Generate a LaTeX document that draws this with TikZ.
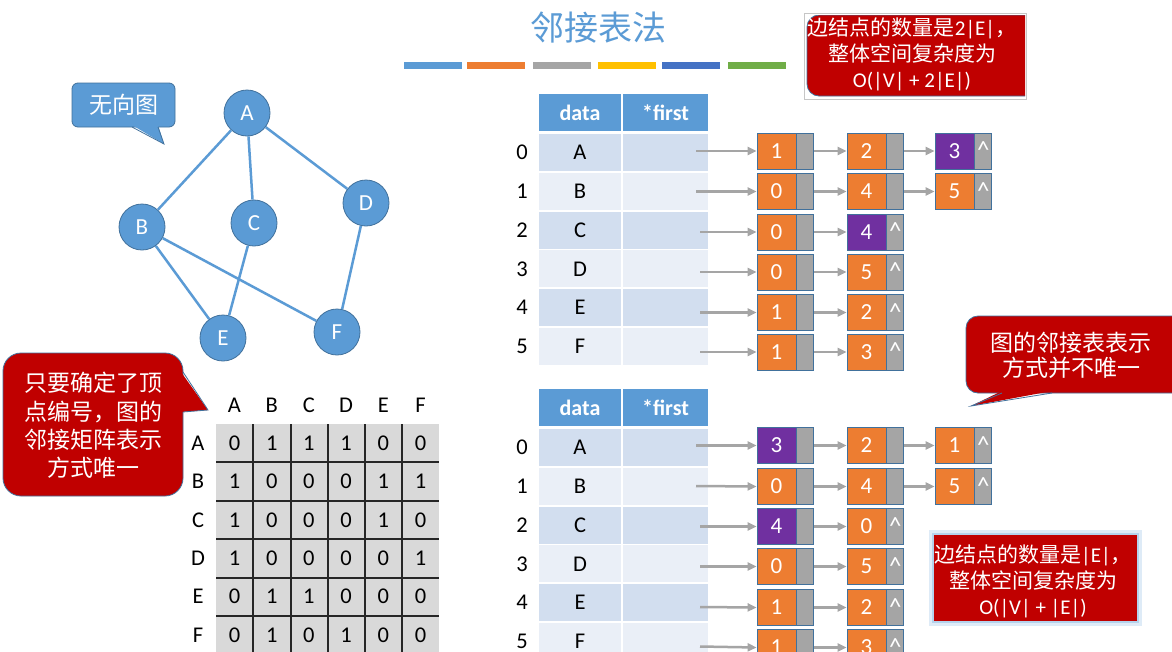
\documentclass[tikz,border=0pt]{standalone}
\usepackage{fontspec}
\setmainfont{Carlito}
\newfontfamily\cjk{Noto Sans CJK SC}
\usetikzlibrary{arrows.meta}
\definecolor{cblue}{HTML}{5B9BD5}
\definecolor{cdark}{HTML}{41719C}
\definecolor{corange}{HTML}{ED7D31}
\definecolor{cgray}{HTML}{A5A5A5}
\definecolor{cyellow}{HTML}{FFC000}
\definecolor{cbluetwo}{HTML}{4472C4}
\definecolor{cgreen}{HTML}{70AD47}
\definecolor{cpurple}{HTML}{7030A0}
\definecolor{cred}{HTML}{C00000}
\definecolor{rowa}{HTML}{D2DEEF}
\definecolor{rowb}{HTML}{EAEFF7}
\definecolor{mgray}{HTML}{D9D9D9}
\definecolor{mline}{HTML}{262626}
\newcommand\mylnode[6]{%
  \node[#5] (#1d) at (#2,#3) {#4};
  \node[pcell, anchor=west] (#1p) at (#1d.east) {#6};
}
\newcommand\mycaret{\raisebox{1pt}{\textasciicircum}}
\begin{document}
\begin{tikzpicture}[x=1pt,y=-1pt,
  gnode/.style={circle, fill=cblue, draw=cdark, line width=0.8pt, minimum size=46pt, inner sep=0pt, text=white, font=\fontsize{23}{23}\selectfont},
  gedge/.style={cblue, line width=2.5pt},
  hcell/.style={fill=cblue, text=white, font=\bfseries\fontsize{22}{22}\selectfont, minimum height=37pt, inner sep=0pt},
  tcell/.style={text=black, font=\fontsize{22.5}{22.5}\selectfont, minimum height=37pt, inner sep=0pt},
  idx/.style={text=black, font=\fontsize{22.5}{22.5}\selectfont, inner sep=0pt},
  dcell/.style={draw=cdark, line width=0.8pt, fill=corange, minimum width=39pt, minimum height=36pt, inner sep=0pt, text=white, font=\fontsize{23}{23}\selectfont},
  pdcell/.style={dcell, fill=cpurple},
  pcell/.style={draw=cdark, line width=0.8pt, fill=cgray, minimum width=17pt, minimum height=36pt, inner sep=0pt, text=white, font=\fontsize{25}{25}\selectfont, anchor=west},
  arr/.style={cgray, line width=2.5pt, -{Triangle[length=9pt,width=8pt]}},
  mtxt/.style={text=black, font=\fontsize{22.5}{22.5}\selectfont, inner sep=0pt},
  calltxt/.style={text=white, align=center, inner sep=0pt},
  calloutline/.style={draw=cdark, line width=0.8pt}
]
\clip (0,0) rectangle (1172,651);
\fill[white] (0,0) rectangle (1172,651);

% title and bars
\node[font=\cjk\fontsize{34}{34}\selectfont, text=cblue] (title) at (598,28) {邻接表法};
\foreach \x/\c in {404/cblue,467/corange,533/cgray,598/cyellow,662/cbluetwo,728/cgreen}
  \fill[\c] (\x,62) rectangle ({\x+58},69);

% top-right callout
\draw[gray!45, fill=white] (804,13) rectangle (1026,99);
\begin{scope}
  \clip (806,15) rectangle (1025,97);
  \draw[fill=cred, calloutline, rounded corners=12] (807,15) rectangle (1060,96);
\end{scope}
\node[calltxt, font=\cjk\fontsize{21}{26}\selectfont] (tc) at (912,54.5)
  {边结点的数量是{\fontspec{Carlito}2|E|}，\\整体空间复杂度为\\{\fontspec{Carlito}O(|V| + 2|E|)}};

% undirected graph label callout
\draw[fill=cblue, calloutline, rounded corners=6] (72,83) rectangle (175,127);
\fill[cblue] (132,125) -- (164,144) -- (158,125) -- cycle;
\draw[calloutline] (132,127) -- (164,144) -- (158,127);
\node[calltxt, font=\cjk\fontsize{23}{23}\selectfont] (wxt) at (123.5,105) {无向图};

% graph
\node[gnode] (A) at (247,113) {A};
\node[gnode] (B) at (142,227) {B};
\node[gnode] (C) at (254,223) {C};
\node[gnode] (D) at (366,203) {D};
\node[gnode] (E) at (223,338) {E};
\node[gnode] (F) at (337,332) {F};
\draw[gedge] (A) -- (B);
\draw[gedge] (A) -- (C);
\draw[gedge] (A) -- (D);
\draw[gedge] (B) -- (E);
\draw[gedge] (B) -- (F);
\draw[gedge] (C) -- (E);
\draw[gedge] (D) -- (F);

% left red callout
\draw[fill=cred, calloutline, rounded corners=18] (3,353) rectangle (183,496);
\fill[cred] (181,372) -- (208,410) -- (181,412) -- cycle;
\draw[calloutline] (183,372) -- (208,410) -- (183,412);
\node[calltxt, font=\cjk\fontsize{23}{28.3}\selectfont] (lc) at (93,425.5)
  {只要确定了顶\\点编号，图的\\邻接矩阵表示\\方式唯一};

% adjacency matrix
\fill[mgray] (216,424) rectangle (439,660);
\foreach \x in {253,291,328,365,402} \draw[mline, line width=1.5pt] (\x,424) -- (\x,660);
\foreach \y in {462,501,539,578,616} \draw[mline, line width=1.5pt] (216,\y) -- (439,\y);
\foreach \l [count=\c from 0] in {A,B,C,D,E,F} {
  \node[mtxt] (ch\c) at ({234.5+37.2*\c},405) {\l};
  \node[mtxt] (rh\c) at (198,{443+38.4*\c}) {\l};
}
\foreach \row [count=\r from 0] in {{0,1,1,1,0,0},{1,0,0,0,1,1},{1,0,0,0,1,0},{1,0,0,0,0,1},{0,1,1,0,0,0},{0,1,0,1,0,0}} {
  \foreach \v [count=\c from 0] in \row {
    \node[mtxt] (m\r\c) at ({234.5+37.2*\c},{443+38.4*\r}) {\v};
  }
}

% vertex tables
\foreach \oy/\p in {0/t,295/u} {
  \node[hcell, minimum width=82pt] (\p h1) at (580,{112.5+\oy}) {data};
  \node[hcell, minimum width=85.5pt] (\p h2) at (665.5,{112.5+\oy}) {*first};
  \foreach \i/\l/\cc in {0/A/rowa,1/B/rowb,2/C/rowa,3/D/rowb,4/E/rowa,5/F/rowb} {
    \node[tcell, fill=\cc, minimum width=82pt] (\p a\i) at (580,{152.5+38.8*\i+\oy}) {\l};
    \node[tcell, fill=\cc, minimum width=85.5pt] (\p b\i) at (665.5,{152.5+38.8*\i+\oy}) {};
    \node[idx] (\p i\i) at (522,{152.5+38.8*\i+\oy}) {\i};
  }
}

% top adjacency lists
\mylnode{ta0}{776.5}{151}{1}{dcell}{}
\mylnode{tb0}{866.5}{151}{2}{dcell}{}
\mylnode{tc0}{954.5}{151}{3}{pdcell}{\mycaret}
\mylnode{ta1}{776.5}{191.5}{0}{dcell}{}
\mylnode{tb1}{866.5}{191.5}{4}{dcell}{}
\mylnode{tc1}{954.5}{191.5}{5}{dcell}{\mycaret}
\mylnode{ta2}{776.5}{232}{0}{dcell}{}
\mylnode{tb2}{866.5}{232}{4}{pdcell}{\mycaret}
\mylnode{ta3}{776.5}{272}{0}{dcell}{}
\mylnode{tb3}{866.5}{272}{5}{dcell}{\mycaret}
\mylnode{ta4}{776.5}{312.5}{1}{dcell}{}
\mylnode{tb4}{866.5}{312.5}{2}{dcell}{\mycaret}
\mylnode{ta5}{776.5}{352}{1}{dcell}{}
\mylnode{tb5}{866.5}{352}{3}{dcell}{\mycaret}

% bottom adjacency lists
\mylnode{ua0}{776.5}{445.5}{3}{pdcell}{}
\mylnode{ub0}{866.5}{445.5}{2}{dcell}{}
\mylnode{uc0}{954.5}{445.5}{1}{dcell}{\mycaret}
\mylnode{ua1}{776.5}{486.5}{0}{dcell}{}
\mylnode{ub1}{866.5}{486.5}{4}{dcell}{}
\mylnode{uc1}{954.5}{486.5}{5}{dcell}{\mycaret}
\mylnode{ua2}{776.5}{526.5}{4}{pdcell}{}
\mylnode{ub2}{866.5}{526.5}{0}{dcell}{\mycaret}
\mylnode{ua3}{776.5}{566.5}{0}{dcell}{}
\mylnode{ub3}{866.5}{566.5}{5}{dcell}{\mycaret}
\mylnode{ua4}{776.5}{607.5}{1}{dcell}{}
\mylnode{ub4}{866.5}{607.5}{2}{dcell}{\mycaret}
\mylnode{ua5}{776.5}{647.5}{1}{dcell}{}
\mylnode{ub5}{866.5}{647.5}{3}{dcell}{\mycaret}

% arrow start points
\foreach \p/\oy in {t/0,u/294.5} {
  \coordinate (\p s0) at (696,{151+\oy});
  \coordinate (\p s1) at (696,{191.5+\oy});
  \coordinate (\p s2) at (700,{232+\oy});
  \coordinate (\p s3) at (700,{272+\oy});
  \coordinate (\p s4) at (700,{312.5+\oy});
  \coordinate (\p s5) at (700,{352+\oy});
}
\foreach \p in {t,u} {
  \foreach \i in {0,...,5} {
    \draw[arr] (\p s\i) -- (\p a\i d.west);
    \draw[arr] (\p a\i p.east) -- (\p b\i d.west);
  }
  \draw[arr] (\p b0p.east) -- (\p c0d.west);
  \draw[arr] (\p b1p.east) -- (\p c1d.west);
}

% right callout
\draw[fill=cred, calloutline, rounded corners=12] (966,316) rectangle (1195,393);
\fill[cred] (1002,391) -- (971,406) -- (1052,391) -- cycle;
\draw[calloutline] (1002,393) -- (971,406) -- (1052,393);
\node[calltxt, font=\cjk\fontsize{23}{25.5}\selectfont] (rc) at (1071,355.5)
  {图的邻接表表示\\方式并不唯一};

% bottom-right box
\fill[cblue!20] (929,530) rectangle (1142,626);
\fill[cblue!45] (932,533) rectangle (1139,623);
\fill[cred] (934,535) rectangle (1137,621);
\node[calltxt, font=\cjk\fontsize{21}{26}\selectfont] (bc) at (1033,581)
  {边结点的数量是{\fontspec{Carlito}|E|}，\\整体空间复杂度为\\{\fontspec{Carlito}O(|V| + |E|)}};
\end{tikzpicture}
\end{document}
